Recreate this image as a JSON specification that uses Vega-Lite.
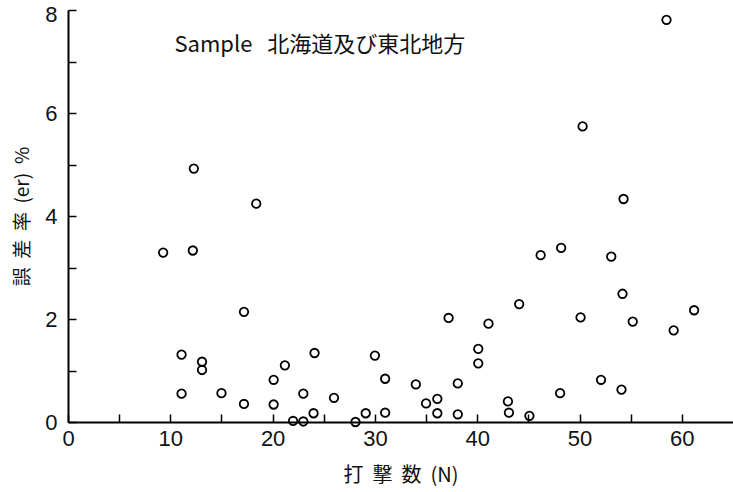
{
  "$schema": "https://vega.github.io/schema/vega-lite/v6.json",
  "autosize": {"type": "none"},
  "padding": {"left": 68, "top": 10, "right": 0, "bottom": 70},
  "width": 665,
  "height": 412,
  "background": "white",
  "config": {
    "view": {"stroke": null},
    "font": "Liberation Sans",
    "axis": {
      "grid": false,
      "domainColor": "#000",
      "domainWidth": 2,
      "tickColor": "#000",
      "tickWidth": 1.5,
      "labelColor": "#111",
      "titleColor": "#111",
      "labelFont": "Liberation Sans",
      "titleFontWeight": "normal"
    }
  },
  "layer": [
    {
      "data": {
        "values": [
          {"N": 9.3, "er": 3.29},
          {"N": 12.3, "er": 4.92},
          {"N": 12.2, "er": 3.33},
          {"N": 18.4, "er": 4.24},
          {"N": 17.2, "er": 2.14},
          {"N": 11.1, "er": 1.31},
          {"N": 13.1, "er": 1.17},
          {"N": 13.1, "er": 1.01},
          {"N": 11.1, "er": 0.55},
          {"N": 15.0, "er": 0.56},
          {"N": 17.2, "er": 0.35},
          {"N": 20.1, "er": 0.82},
          {"N": 20.1, "er": 0.34},
          {"N": 21.2, "er": 1.10},
          {"N": 22.0, "er": 0.02},
          {"N": 23.0, "er": 0.01},
          {"N": 23.0, "er": 0.55},
          {"N": 24.0, "er": 0.17},
          {"N": 24.1, "er": 1.34},
          {"N": 26.0, "er": 0.47},
          {"N": 28.1, "er": 0.0},
          {"N": 29.1, "er": 0.17},
          {"N": 30.0, "er": 1.29},
          {"N": 31.0, "er": 0.84},
          {"N": 31.0, "er": 0.18},
          {"N": 34.0, "er": 0.73},
          {"N": 35.0, "er": 0.36},
          {"N": 36.1, "er": 0.45},
          {"N": 36.1, "er": 0.17},
          {"N": 37.2, "er": 2.02},
          {"N": 38.1, "er": 0.75},
          {"N": 38.1, "er": 0.15},
          {"N": 40.1, "er": 1.42},
          {"N": 40.1, "er": 1.14},
          {"N": 41.1, "er": 1.91},
          {"N": 43.0, "er": 0.40},
          {"N": 43.1, "er": 0.18},
          {"N": 44.1, "er": 2.29},
          {"N": 45.1, "er": 0.12},
          {"N": 46.2, "er": 3.24},
          {"N": 48.1, "er": 0.56},
          {"N": 48.2, "er": 3.38},
          {"N": 50.1, "er": 2.03},
          {"N": 50.3, "er": 5.74},
          {"N": 52.1, "er": 0.82},
          {"N": 53.1, "er": 3.21},
          {"N": 54.1, "er": 0.63},
          {"N": 54.2, "er": 2.49},
          {"N": 54.3, "er": 4.33},
          {"N": 55.2, "er": 1.95},
          {"N": 58.5, "er": 7.81},
          {"N": 59.2, "er": 1.78},
          {"N": 61.2, "er": 2.17}
        ]
      },
      "mark": {"type": "point", "shape": "circle", "filled": false, "size": 72, "stroke": "#000", "strokeWidth": 1.8, "opacity": 1},
      "encoding": {
        "x": {
          "field": "N",
          "type": "quantitative",
          "scale": {"domain": [0, 65], "nice": false, "zero": true},
          "axis": {
            "title": "打\u00a0\u00a0撃\u00a0\u00a0数\u00a0\u00a0(N)",
            "titleFont": "Noto Sans CJK JP",
            "titleFontSize": 20,
            "titlePadding": 16,
            "values": [0, 5, 10, 15, 20, 25, 30, 35, 40, 45, 50, 55, 60],
            "labelExpr": "datum.value % 10 === 0 ? datum.label : ''",
            "labelFontSize": 22,
            "labelPadding": 14,
            "tickSize": -8,
            "labelFlush": false
          }
        },
        "y": {
          "field": "er",
          "type": "quantitative",
          "scale": {"domain": [0, 8], "nice": false},
          "axis": {
            "title": "誤\u00a0\u00a0差\u00a0\u00a0率\u00a0\u00a0(er)\u00a0\u00a0%",
            "titleFont": "Noto Sans CJK JP",
            "titleFontSize": 19,
            "titlePadding": 12,
            "values": [0, 1, 2, 3, 4, 5, 6, 7, 8],
            "labelExpr": "datum.value % 2 === 0 ? datum.label : ''",
            "labelFontSize": 22,
            "labelPadding": 19,
            "labelOffset": {"condition": {"test": "datum.value === 8", "value": 4}, "value": 0},
            "tickSize": -8,
            "labelFlush": false
          }
        }
      }
    },
    {
      "data": {"values": [{"N": 10.4, "er": 7.33, "label": "Sample\u00a0\u00a0\u00a0北海道及び東北地方"}]},
      "mark": {"type": "text", "align": "left", "baseline": "middle", "font": "Noto Sans CJK JP", "fontSize": 22, "color": "#111"},
      "encoding": {
        "x": {"field": "N", "type": "quantitative"},
        "y": {"field": "er", "type": "quantitative"},
        "text": {"field": "label"}
      }
    }
  ]
}
